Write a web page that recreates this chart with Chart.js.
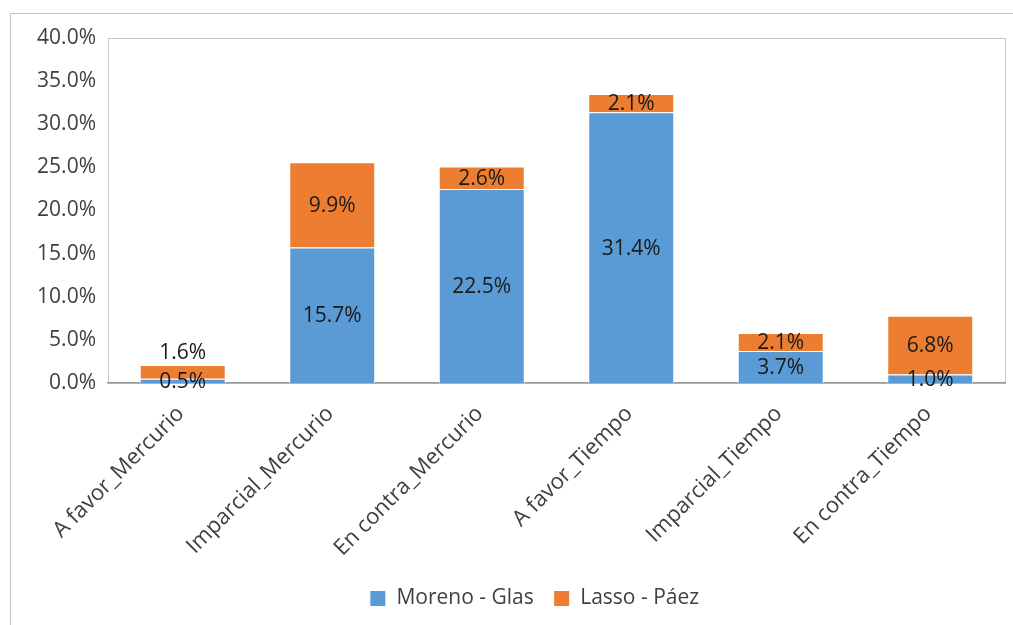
<!DOCTYPE html>
<html>
<head>
<meta charset="utf-8">
<script src="https://cdn.jsdelivr.net/npm/chart.js@4.4.0/dist/chart.umd.min.js"></script>
<style>
  html, body { margin: 0; padding: 0; background: #fff; }
  #marco { position: absolute; left: 10px; top: 13px; width: 1100px; height: 700px; border: 1px solid #c4c4c4; }
  #wrap { position: absolute; left: 0; top: 0; width: 1013px; height: 625px; }
</style>
</head>
<body>
<div id="marco"></div>
<div id="wrap"><canvas id="grafico" width="1013" height="625"></canvas></div>
<script>
const categorias = ['A favor_Mercurio', 'Imparcial_Mercurio', 'En contra_Mercurio', 'A favor_Tiempo', 'Imparcial_Tiempo', 'En contra_Tiempo'];
const morenoGlas = [0.5, 15.7, 22.5, 31.4, 3.7, 1.0];
const lassoPaez = [1.6, 9.9, 2.6, 2.1, 2.1, 6.8];
const ticksY = [0, 5, 10, 15, 20, 25, 30, 35, 40];

const FUENTE = '"Open Sans", Lato, sans-serif';

// borde gris alrededor del area de trazado
const bordeArea = {
    id: 'bordeArea',
    beforeDraw(chart) {
        const { ctx, chartArea: a } = chart;
        ctx.save();
        ctx.strokeStyle = '#c8c8c8';
        ctx.lineWidth = 1;
        ctx.strokeRect(Math.round(a.left) + 0.5, Math.round(a.top) + 0.5, Math.round(a.right - a.left), Math.round(a.bottom - a.top));
        ctx.restore();
    }
};

// la leyenda del original esta algo corrida a la derecha
const moverLeyenda = {
    id: 'moverLeyenda',
    afterLayout(chart) {
        if (!chart.legend) return;
        chart.legend.left += 22;
        chart.legend.right += 22;
    }
};

// etiquetas de valor dentro de cada segmento
const etiquetas = {
    id: 'etiquetas',
    afterDatasetsDraw(chart) {
        const ctx = chart.ctx;
        ctx.save();
        ctx.font = '21px ' + FUENTE;
        ctx.fillStyle = '#1a1a1a';
        ctx.textAlign = 'center';
        ctx.textBaseline = 'middle';
        chart.data.datasets.forEach((ds, i) => {
            const meta = chart.getDatasetMeta(i);
            meta.data.forEach((bar, j) => {
                const v = ds.data[j];
                const alto = bar.base - bar.y;
                let y = bar.y + alto / 2;
                if (i === chart.data.datasets.length - 1 && alto < 16) y = bar.y - 13;
                ctx.fillText(v.toFixed(1) + '%', bar.x, y + 1);
            });
        });
        ctx.restore();
    }
};

new Chart(document.getElementById('grafico'), {
    type: 'bar',
    data: {
        labels: categorias,
        datasets: [
            { label: 'Moreno - Glas', data: morenoGlas, backgroundColor: '#5b9bd5', borderColor: '#ffffff', borderWidth: 1 },
            { label: 'Lasso - Páez', data: lassoPaez, backgroundColor: '#ed7d31', borderColor: '#ffffff', borderWidth: 1 }
        ]
    },
    options: {
        responsive: false,
        animation: false,
        layout: { padding: { left: 20, right: 8, top: 38, bottom: 6 } },
        datasets: { bar: { barPercentage: 0.575, categoryPercentage: 1 } },
        scales: {
            x: {
                stacked: true,
                grid: { display: false },
                border: { display: true, color: '#9a9a9a', width: 1.5 },
                ticks: {
                    color: '#404040',
                    font: { size: 22, family: FUENTE },
                    maxRotation: 45,
                    minRotation: 45,
                    padding: 10,
                    labelOffset: -2
                },
                afterFit: (s) => { s.height = 185; }
            },
            y: {
                stacked: true,
                min: 0,
                max: 40,
                afterBuildTicks: (s) => { s.ticks = ticksY.map(v => ({ value: v })); },
                grid: { display: false },
                border: { display: false },
                ticks: {
                    color: '#404040',
                    font: { size: 21, family: FUENTE },
                    padding: 4,
                    callback: (v) => v.toFixed(1) + '%'
                },
                afterFit: (s) => { s.width = 88; }
            }
        },
        plugins: {
            legend: {
                position: 'bottom',
                labels: {
                    color: '#404040',
                    font: { size: 21, family: FUENTE },
                    boxWidth: 16,
                    boxHeight: 16,
                    padding: 20
                }
            },
            tooltip: { enabled: false }
        }
    },
    plugins: [bordeArea, moverLeyenda, etiquetas]
});
</script>
</body>
</html>
